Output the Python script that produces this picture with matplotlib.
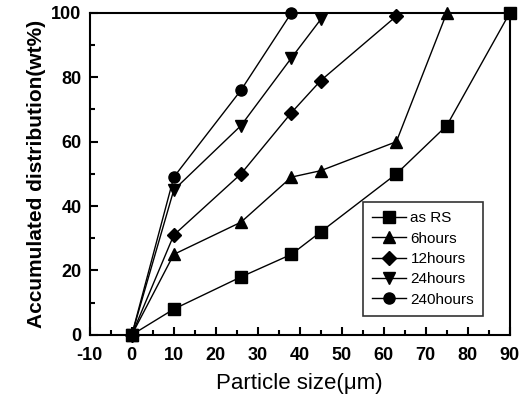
import matplotlib
matplotlib.use('Agg')
import matplotlib.pyplot as plt
from matplotlib.ticker import MultipleLocator

plt.rcParams['font.family'] = ['Liberation Sans', 'DejaVu Sans']
plt.rcParams['axes.unicode_minus'] = False

# particle size (um) and accumulated distribution (wt%)
x_rs = [0, 10, 26, 38, 45, 63, 75, 90]
y_rs = [0, 8, 18, 25, 32, 50, 65, 100]
x_6h = [0, 10, 26, 38, 45, 63, 75]
y_6h = [0, 25, 35, 49, 51, 60, 100]
x_12h = [0, 10, 26, 38, 45, 63]
y_12h = [0, 31, 50, 69, 79, 99]
x_24h = [0, 10, 26, 38, 45]
y_24h = [0, 45, 65, 86, 98]
x_240h = [0, 10, 26, 38]
y_240h = [0, 49, 76, 100]

series = [
    (x_rs, y_rs, 's', 'as RS'),
    (x_6h, y_6h, '^', '6hours'),
    (x_12h, y_12h, 'D', '12hours'),
    (x_24h, y_24h, 'v', '24hours'),
    (x_240h, y_240h, 'o', '240hours'),
]

fig = plt.figure(figsize=(5.25, 4.03), dpi=100)
ax = fig.add_axes([0.171, 0.169, 0.8, 0.799])

for xs, ys, mk, lab in series:
    ms = 7 if mk == 'D' else 8
    ax.plot(xs, ys, color='black', linewidth=1.0, marker=mk, markersize=ms,
            markerfacecolor='black', markeredgecolor='black', label=lab,
            clip_on=False, zorder=3)

ax.set_xlim(-10, 90)
ax.set_ylim(0, 100)
ax.xaxis.set_major_locator(MultipleLocator(10))
ax.xaxis.set_minor_locator(MultipleLocator(5))
ax.yaxis.set_major_locator(MultipleLocator(20))
ax.yaxis.set_minor_locator(MultipleLocator(10))
ax.tick_params(which='both', direction='in', top=False, right=False,
               width=1.5, labelsize=13)
ax.tick_params(which='major', length=6)
ax.tick_params(which='minor', length=3.5)
ax.tick_params(axis='x', pad=9)
ax.tick_params(axis='y', pad=6)
for lbl in ax.get_xticklabels() + ax.get_yticklabels():
    lbl.set_fontweight('bold')
for sp in ax.spines.values():
    sp.set_linewidth(1.5)

ax.set_xlabel('Particle size(\u03bcm)', fontsize=16, labelpad=6)
ax.set_ylabel('Accumulated distribution(wt%)', fontsize=15,
              fontweight='bold', labelpad=4)

leg = ax.legend(loc='lower right', bbox_to_anchor=(0.955, 0.035), fontsize=11,
                frameon=True, fancybox=False, edgecolor='black',
                handlelength=2.2, handletextpad=0.3, labelspacing=0.42,
                borderpad=0.6)
leg.get_frame().set_linewidth(1.2)

plt.savefig('out.png', dpi=100)
